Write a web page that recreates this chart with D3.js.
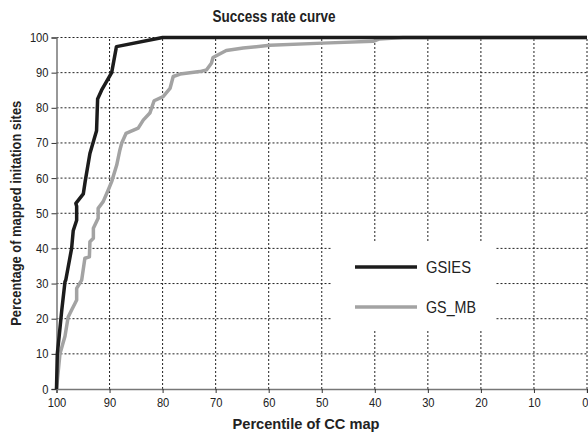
<!DOCTYPE html>
<html>
<head>
<meta charset="utf-8">
<script src="https://cdn.jsdelivr.net/npm/d3@7"></script>
<style>
body{margin:0;background:#fff;}
svg{display:block;font-family:"Liberation Sans",Arial,sans-serif;}
.grid line{stroke:#222;stroke-width:1;stroke-dasharray:2,2;}
.tick text{font-size:12.5px;fill:#222;}
.line{fill:none;stroke-width:3.5;stroke-linejoin:round;}
</style>
</head>
<body>
<svg id="chart"></svg>
<script>
// [percentile of CC map, percentage of mapped sites]
var gsies=[[100,0],[99.85,10],[99.5,15],[99.0,22.5],[98.4,30.5],[98.25,31],[97.15,40],[96.85,45],
  [96.2,48],[96.2,52],[96.35,52.8],[94.95,55.5],[94.6,59],[93.7,67],[92.45,73.5],[92.25,82.5],
  [91.5,85],[89.6,90],[88.7,97.4],[80,100],[0,100]];
var gsmb=[[100,0],[99.35,10],[98.4,15],[97.8,20.5],[97.15,22.5],[96.5,24.4],[96.2,25.3],[96.2,28.6],
  [95.25,31],[94.65,37.2],[93.8,37.6],[93.7,41.9],[93.05,42.9],[93.05,45.7],[92.15,48.6],[92.15,51.4],
  [91.2,53.3],[90.25,56.6],[89.6,59],[88.65,63.7],[88.05,68],[87.7,70],[86.9,72.7],[84.6,74.2],
  [83.65,76.5],[82.4,78.5],[81.6,82],[79.9,83.2],[78.6,85.5],[78.0,88.9],[76.7,89.6],[73,90.3],
  [71.7,90.8],[70.8,92.7],[70.5,94.3],[68,96.3],[64.8,97],[59.8,97.8],[49.8,98.4],[40.3,98.9],
  [39.1,99.6],[34.7,100],[0,100]];
var seriesNames=["GSIES","GS_MB"];
var seriesColors=["#1c1c1c","#a3a3a3"];
var xTicks=[100,90,80,70,60,50,40,30,20,10,0];
var yTicks=[0,10,20,30,40,50,60,70,80,90,100];

var w=588;
var h=436;
var margin={left:56.5,right:1,top:37.5,bottom:47};

var svg=d3.select("#chart")
          .attr("width",w)
          .attr("height",h);

var xScale=d3.scaleLinear()
             .domain([100,0])
             .range([margin.left,w-margin.right]);
var yScale=d3.scaleLinear()
             .domain([0,100])
             .range([h-margin.bottom,margin.top]);

// grid
svg.append("g")
   .classed("grid",true)
   .selectAll("line.v")
   .data(xTicks.slice(1))
   .enter()
   .append("line")
   .attr("x1",function(d){return xScale(d);})
   .attr("x2",function(d){return xScale(d);})
   .attr("y1",yScale(0))
   .attr("y2",yScale(100));
svg.append("g")
   .classed("grid",true)
   .selectAll("line.h")
   .data(yTicks.slice(1))
   .enter()
   .append("line")
   .attr("x1",xScale(100))
   .attr("x2",xScale(0))
   .attr("y1",function(d){return yScale(d);})
   .attr("y2",function(d){return yScale(d);});

// axes
var xAxis=d3.axisBottom(xScale).tickValues(xTicks).tickSize(4).tickPadding(3);
var yAxis=d3.axisLeft(yScale).tickValues(yTicks).tickSize(5).tickPadding(3);
var gx=svg.append("g")
   .attr("transform","translate(0,"+yScale(0)+")")
   .call(xAxis);
var gy=svg.append("g")
   .attr("transform","translate("+xScale(100)+",0)")
   .call(yAxis);
[gx,gy].forEach(function(g){
  g.select(".domain").attr("stroke","#777").attr("stroke-width",1.5);
  g.selectAll(".tick line").attr("stroke","#333");
  g.selectAll(".tick text").attr("textLength",function(d){return String(d).length*6.2;})
   .attr("lengthAdjust","spacingAndGlyphs");
});
gx.selectAll(".tick text").attr("dy","0.9em");
// last label sits on the right edge
gx.selectAll(".tick text").filter(function(d){return d===0;})
  .attr("text-anchor","end").attr("x",1);

// legend background
svg.append("rect")
   .attr("x",331)
   .attr("y",243)
   .attr("width",165)
   .attr("height",88)
   .attr("fill","#fff");

var line=d3.line()
           .x(function(d){return xScale(d[0]);})
           .y(function(d){return yScale(d[1]);});

svg.append("path")
   .datum(gsmb)
   .classed("line",true)
   .attr("stroke",seriesColors[1])
   .attr("d",line);
svg.append("path")
   .datum(gsies)
   .classed("line",true)
   .attr("stroke",seriesColors[0])
   .attr("d",line);

// legend
var legW=[45,50];
var leg=svg.append("g")
           .selectAll("g")
           .data(seriesNames)
           .enter()
           .append("g")
           .attr("transform",function(d,i){return "translate(355,"+(267+i*40)+")";});
leg.append("line")
   .attr("x1",0)
   .attr("x2",62)
   .attr("stroke",function(d,i){return seriesColors[i];})
   .attr("stroke-width",3.5);
leg.append("text")
   .attr("x",71)
   .attr("dy","0.36em")
   .attr("textLength",function(d,i){return legW[i];})
   .attr("lengthAdjust","spacingAndGlyphs")
   .style("font-size","17px")
   .attr("fill","#222")
   .text(function(d){return d;});

// titles
svg.append("text")
   .attr("x",274)
   .attr("y",22)
   .attr("text-anchor","middle")
   .attr("textLength",123)
   .attr("lengthAdjust","spacingAndGlyphs")
   .style("font-size","16px")
   .style("font-weight","bold")
   .attr("fill","#222")
   .text("Success rate curve");
svg.append("text")
   .attr("x",306)
   .attr("y",429)
   .attr("text-anchor","middle")
   .attr("textLength",147)
   .attr("lengthAdjust","spacingAndGlyphs")
   .style("font-size","15px")
   .style("font-weight","bold")
   .attr("fill","#222")
   .text("Percentile of CC map");
svg.append("text")
   .attr("transform","translate(21,"+yScale(50)+") rotate(-90)")
   .attr("text-anchor","middle")
   .attr("textLength",225)
   .attr("lengthAdjust","spacingAndGlyphs")
   .style("font-size","15px")
   .style("font-weight","bold")
   .attr("fill","#222")
   .text("Percentage of mapped initation sites");
</script>
</body>
</html>
